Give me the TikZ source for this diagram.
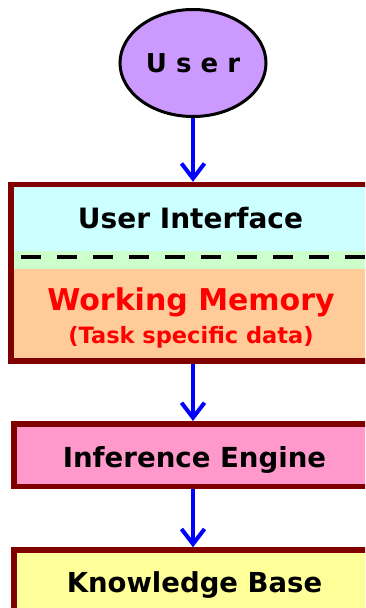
\documentclass[tikz,border=0pt]{standalone}
\usepackage{fontspec}
\setmainfont{DejaVu Sans}
\usetikzlibrary{shapes.geometric,arrows.meta}
\definecolor{boxborder}{HTML}{800000}
\definecolor{userfill}{HTML}{CC99FF}
\definecolor{uifill}{HTML}{CCFFFF}
\definecolor{dashfill}{HTML}{CCFFCC}
\definecolor{wmfill}{HTML}{FFCC99}
\definecolor{iefill}{HTML}{FF99CC}
\definecolor{kbfill}{HTML}{FFFF99}
\begin{document}
\begin{tikzpicture}[x=1pt,y=-1pt,
  box/.style={draw=boxborder,line width=5.5pt,minimum width=361pt,inner sep=0pt},
  label/.style={font=\bfseries\fontsize{27.5}{29}\selectfont},
  flow/.style={draw=blue,line width=4pt,-{Straight Barb[length=15pt,width=23pt]}}]
\useasboundingbox (0,0) rectangle (365,608);
\clip (0,0) rectangle (365,608);

% User
\node[ellipse,draw,line width=3pt,fill=userfill,minimum width=146pt,minimum height=107pt,inner sep=0pt,
  font=\bfseries\fontsize{26}{28}\selectfont] (user) at (193,63) {U s e r};

% User Interface / Working Memory
\fill[uifill] (14,187) rectangle (372,251);
\fill[dashfill] (14,251) rectangle (372,269);
\fill[wmfill] (14,269) rectangle (372,359);
\draw[line width=4pt,dash pattern=on 20pt off 16pt] (21,257) -- (372,257);
\node[box,minimum width=360pt,minimum height=176.5pt] (wm) at (190.75,272.75) {};
\node[label,font=\bfseries\fontsize{28}{30}\selectfont] (uitext) at (190.5,218) {User Interface};
\node[red,font=\bfseries\fontsize{30}{32}\selectfont] (wmtext) at (191,302) {Working Memory};
\node[red,font=\bfseries\fontsize{22.5}{24}\selectfont] (tasktext) at (191,337) {(Task specific data)};

% Inference Engine
\node[box,fill=iefill,minimum height=62.5pt] (ie) at (194.5,455) {};
\node[label,font=\bfseries\fontsize{27.6}{29}\selectfont] (ietext) at (194.5,460) {Inference Engine};

% Knowledge Base
\node[box,fill=kbfill,minimum height=70pt] (kb) at (194.5,585) {};
\node[label] (kbtext) at (194.5,585) {Knowledge Base};

\draw[flow] (user.south) -- (user.south |- wm.north);
\draw[flow] (user.south |- wm.south) -- (user.south |- ie.north);
\draw[flow] (user.south |- ie.south) -- (user.south |- kb.north);

\end{tikzpicture}
\end{document}
